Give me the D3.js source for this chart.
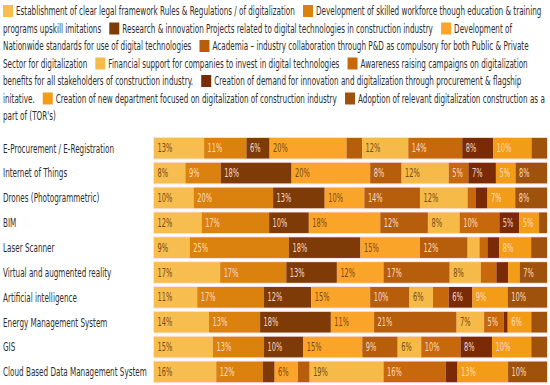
<!DOCTYPE html>
<html>
<head>
<meta charset="utf-8">
<script src="https://cdn.jsdelivr.net/npm/d3@7"></script>
<style>
  body { margin: 0; background: #fff; }
  svg { display: block; }
  text { font-family: "Liberation Sans Narrow", "DejaVu Sans Condensed", "Roboto", sans-serif; }
</style>
</head>
<body>
<svg width="550" height="385"></svg>
<script>

// categories (rows, top to bottom)
var technologies = [
    "E-Procurement / E-Registration",
    "Internet of Things",
    "Drones (Photogrammetric)",
    "BIM",
    "Laser Scanner",
    "Virtual and augmented reality",
    "Artificial intelligence",
    "Energy Management System",
    "GIS",
    "Cloud Based Data Management System"
];

var seriesNames = [
    "Establishment of clear legal framework Rules & Regulations / of digitalization",
    "Development of skilled workforce though education & training programs upskill imitations",
    "Research & innovation Projects related to digital technologies in construction industry",
    "Development of Nationwide standards for use of digital technologies",
    "Academia \u2013 industry collaboration through P&D as compulsory for both Public & Private Sector for digitalization",
    "Financial support for companies to invest in digital technologies",
    "Awareness raising campaigns on digitalization benefits for all stakeholders of construction industry.",
    "Creation of demand for innovation and digitalization through procurement & flagship initative.",
    "Creation of new department focused on digitalization of construction industry",
    "Adoption of relevant digitalization construction as a part of (TOR's)"
];

// percentages per series, same order as technologies
var legalFramework   = [13,  8, 10, 12,  9, 17, 11, 14, 15, 16];
var skilledWorkforce = [11,  9, 20, 17, 25, 17, 17, 13, 13, 12];
var researchProjects = [ 6, 18, 13, 10, 18, 13, 12, 18, 10,  3];
var nationalStds     = [20, 20, 10, 18, 15, 12, 15, 11, 15,  6];
var academiaIndustry = [ 4,  8, 14, 12, 12, 17, 10, 21,  9,  3];
var financialSupport = [12, 12, 12,  8,  3,  8,  6,  7,  6, 19];
var awareness        = [14,  5,  2, 10,  2,  4,  4,  5, 10, 16];
var demandCreation   = [ 8,  7,  3,  5,  3,  3,  6,  1,  8,  3];
var newDepartment    = [10,  5,  7,  5,  8,  3,  9,  6, 10, 13];
var torAdoption      = [ 4,  8,  8,  2,  4,  7, 10,  4,  4, 10];

var seriesValues = [legalFramework, skilledWorkforce, researchProjects, nationalStds,
    academiaIndustry, financialSupport, awareness, demandCreation, newDepartment, torAdoption];

var colors = ["#f7bd4f", "#da810e", "#7e3a07", "#faa52a", "#b65e0c",
              "#f6ba48", "#c8680c", "#7a2b06", "#f39c17", "#9e520b"];
var lightText = [false, true, true, false, true, false, true, true, true, true];

var svg = d3.select("svg"),
    width = +svg.attr("width"),
    height = +svg.attr("height");

var fontSize = 12.5;

// measuring helper
var meas = svg.append("text").attr("font-size", fontSize).attr("visibility", "hidden");
function textW(s, fs) {
    meas.attr("font-size", fs || fontSize).text(s);
    return meas.node().getComputedTextLength();
}
// horizontal squeeze to match the condensed look
var sx = 279 / textW(seriesNames[0]);
function w(s, fs) { return textW(s, fs) * sx; }

// ---------- legend (flowing paragraph) ----------
var legend = svg.append("g").attr("class", "legend");
var lx0 = 3, lmax = 547, lineH = 17.5, ly0 = 11;
var line = 0, x = lx0, run = "", runX = lx0;

function flush() {
    if (run) {
        legend.append("text")
            .attr("transform", "translate(" + runX + "," + (ly0 + line * lineH) + ") scale(" + sx + ",1)")
            .attr("dy", "0.35em")
            .attr("font-size", fontSize)
            .attr("fill", "#2e2e2e")
            .text(run);
        x = runX + w(run);
    }
    run = "";
}

seriesNames.forEach(function (name, i) {
    flush();
    if (x > lx0) x += 8;
    if (x + 10 > lmax) { line++; x = lx0; }
    legend.append("rect")
        .attr("x", x)
        .attr("y", ly0 + line * lineH - 6)
        .attr("width", 10)
        .attr("height", 12)
        .attr("fill", colors[i]);
    x += 13;
    runX = x;
    name.split(" ").forEach(function (word) {
        var cand = run ? run + " " + word : word;
        if (runX + w(cand) > lmax) {
            flush();
            line++;
            runX = lx0; x = lx0;
            run = word;
        } else {
            run = cand;
        }
    });
});
flush();

// ---------- stacked bars ----------
var rows = technologies.map(function (t, r) {
    var o = { tech: t };
    seriesValues.forEach(function (arr, i) { o["s" + i] = arr[r]; });
    return o;
});
var keys = seriesValues.map(function (d, i) { return "s" + i; });

var stack = d3.stack().keys(keys).offset(d3.stackOffsetExpand);
var layers = stack(rows);

var x = d3.scaleLinear().domain([0, 1]).range([154, 547]);
var y = d3.scaleBand()
    .domain(technologies)
    .range([135.8, 384.3])
    .paddingInner(0.17)
    .paddingOuter(0.085);

// faint outline behind each bar
svg.append("g")
    .selectAll("rect")
    .data(technologies)
    .enter().append("rect")
    .attr("x", x(0) - 1)
    .attr("y", function (d) { return y(d) - 1; })
    .attr("width", x(1) - x(0) + 2)
    .attr("height", y.bandwidth() + 2)
    .attr("fill", "#fbe3ee");

var layer = svg.append("g")
    .selectAll("g")
    .data(layers)
    .enter().append("g")
    .attr("fill", function (d, i) { return colors[i]; });

layer.selectAll("rect")
    .data(function (d) { return d; })
    .enter().append("rect")
    .attr("x", function (d) { return x(d[0]); })
    .attr("y", function (d) { return y(d.data.tech); })
    .attr("width", function (d) { return x(d[1]) - x(d[0]); })
    .attr("height", y.bandwidth());

// value labels
var labelSize = 11.5;
layers.forEach(function (lay, i) {
    svg.append("g")
        .selectAll("text")
        .data(lay.filter(function (d) { return d.data[lay.key] >= 5; }))
        .enter().append("text")
        .attr("transform", function (d) {
            return "translate(" + (x(d[0]) + 3.5) + "," + (y(d.data.tech) + y.bandwidth() / 2) + ") scale(" + sx + ",1)";
        })
        .attr("dy", "0.35em")
        .attr("font-size", labelSize)
        .attr("fill", lightText[i] ? "#fcdcc4" : "#7a4a14")
        .text(function (d) { return d.data[lay.key] + "%"; });
});

// category labels
svg.append("g")
    .selectAll("text")
    .data(technologies)
    .enter().append("text")
    .attr("transform", function (d) {
        return "translate(3," + (y(d) + y.bandwidth() / 2) + ") scale(" + sx + ",1)";
    })
    .attr("dy", "0.35em")
    .attr("font-size", fontSize)
    .attr("fill", "#2e2e2e")
    .text(function (d) { return d; });

meas.remove();
</script>
</body>
</html>
